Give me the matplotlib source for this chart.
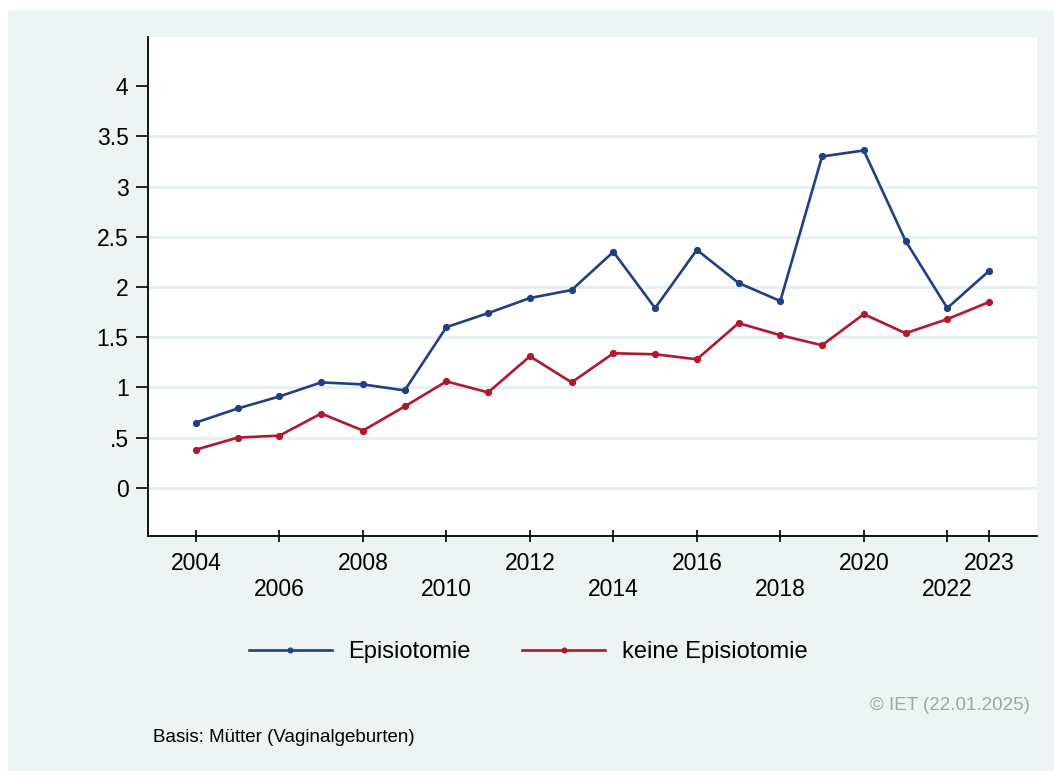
import matplotlib
matplotlib.use('Agg')
import matplotlib.pyplot as plt
from matplotlib.patches import Rectangle

plt.rcParams['font.family'] = ['Liberation Sans', 'DejaVu Sans']

years = list(range(2004, 2024))
episiotomie = [0.65, 0.79, 0.91, 1.05, 1.03, 0.97, 1.60, 1.74, 1.89, 1.97,
               2.35, 1.79, 2.37, 2.04, 1.86, 3.30, 3.36, 2.46, 1.79, 2.16]
keine_episiotomie = [0.38, 0.50, 0.52, 0.74, 0.57, 0.81, 1.06, 0.95, 1.31, 1.05,
                     1.34, 1.33, 1.28, 1.64, 1.52, 1.42, 1.73, 1.54, 1.68, 1.85]

# x labels come in two staggered rows
xticks_top = [2004, 2008, 2012, 2016, 2020, 2023]
xticks_low = [2006, 2010, 2014, 2018, 2022]
yticks = [0, 0.5, 1, 1.5, 2, 2.5, 3, 3.5, 4]
yticklabels = ['0', '.5', '1', '1.5', '2', '2.5', '3', '3.5', '4']
grid_levels = [0, 0.5, 1, 1.5, 2, 2.5, 3, 3.5]

bg = '#EDF4F4'
blue = '#1F3F86'
red = '#B3172F'

fig = plt.figure(figsize=(10.54, 7.71), dpi=100, facecolor='white')
fig.patches.append(Rectangle((8 / 1054, 0), 1, 1 - 10 / 771, transform=fig.transFigure,
                             facecolor=bg, edgecolor='none', zorder=-10))

ax = fig.add_axes([148 / 1054, 1 - 536 / 771, (1037 - 148) / 1054, (536 - 37) / 771])
ax.set_facecolor('white')

for g in grid_levels:
    ax.axhline(g, color='#E6EFF1', lw=2.2, zorder=0)

ax.plot(years, episiotomie, color=blue, lw=1.9, marker='o', ms=4.2, label='Episiotomie')
ax.plot(years, keine_episiotomie, color=red, lw=1.9, marker='o', ms=4.2, label='keine Episiotomie')

ax.set_xlim(2002.85, 2024.15)
ax.set_ylim(-0.48, 4.49)

ax.set_xticks(xticks_top)
ax.set_xticklabels([str(y) for y in xticks_top])
ax.set_xticks(xticks_low, minor=True)
ax.set_xticklabels([str(y) for y in xticks_low], minor=True)
ax.set_yticks(yticks)
ax.set_yticklabels(yticklabels)

for s in ['top', 'right']:
    ax.spines[s].set_visible(False)
for s in ['left', 'bottom']:
    ax.spines[s].set_linewidth(1.3)
    ax.spines[s].set_color('black')

ax.tick_params(axis='x', which='major', direction='inout', length=9, width=1.2, labelsize=16.5, pad=7)
ax.tick_params(axis='x', which='minor', direction='inout', length=9, width=1.2, labelsize=16.5, pad=26)
ax.tick_params(axis='y', direction='out', length=9, width=1.2, labelsize=16.5, pad=5)

fig.legend(loc='center', bbox_to_anchor=(528 / 1054, 1 - 652 / 771), ncol=2, frameon=False,
           fontsize=17, handlelength=3.5, handletextpad=0.7, columnspacing=2.2, markerscale=0.8)

fig.text(1030 / 1054, 1 - 705 / 771, '\u00a9 IET (22.01.2025)', ha='right', va='center',
         fontsize=13.5, color='#A3A3A3')
fig.text(153 / 1054, 1 - 737 / 771, 'Basis: M\u00fctter (Vaginalgeburten)', ha='left', va='center',
         fontsize=13.5, color='black')

fig.savefig('out.png', dpi=100, facecolor=fig.get_facecolor())
